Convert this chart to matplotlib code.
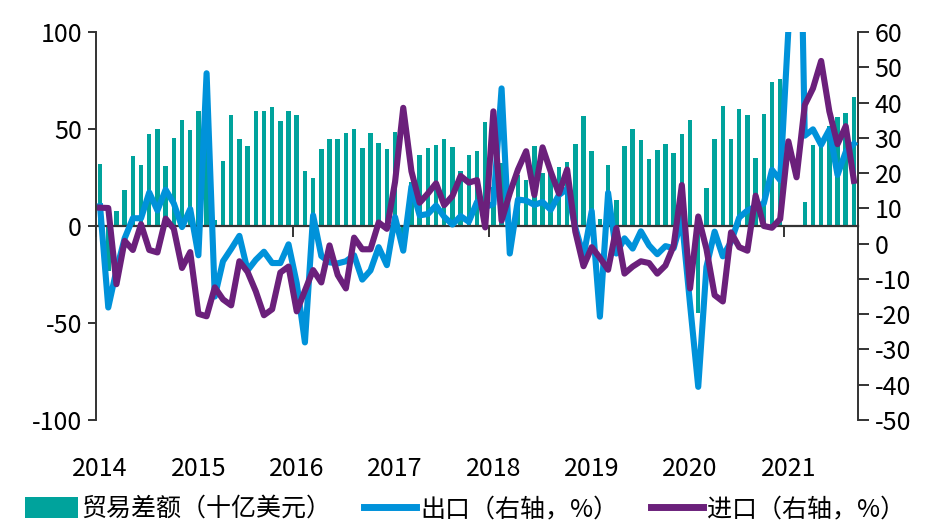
import numpy as np
import matplotlib
matplotlib.use('Agg')
import matplotlib.pyplot as plt
from matplotlib.patches import Patch
from matplotlib.lines import Line2D

plt.rcParams['font.family'] = ['Noto Sans CJK SC', 'DejaVu Sans']
plt.rcParams['axes.unicode_minus'] = False

TEAL = '#00A39C'
BLUE = '#0092DA'
PURPLE = '#6B207B'
DARK = '#333333'

years = ['2014', '2015', '2016', '2017', '2018', '2019', '2020', '2021']

# monthly, Jan 2014 - Sep 2021 (nan = not shown)
nan = np.nan
balance = [31.9, -23.0, 7.7, 18.5, 35.9, 31.6, 47.3, 49.8, 31.0, 45.4, 54.5, 49.6,
           59.4, 60.6, 3.0, 33.5, 57.0, 45.0, 41.4, 59.5, 59.5, 61.2, 54.0, 59.5,
           57.1, 28.2, 24.9, 39.7, 44.8, 45.1, 48.0, 50.0, 40.2, 47.9, 42.8, 39.6,
           48.6, -9.2, 22.5, 36.5, 40.0, 41.5, 45.0, 40.5, 28.5, 36.8, 38.6, 53.8,
           20.3, 32.5, -5.0, 26.2, 23.5, 41.0, 27.5, 27.9, 30.5, 33.0, 42.5, 56.8,
           38.6, 3.5, 31.5, 13.3, 41.0, 50.0, 44.2, 34.6, 39.0, 42.3, 37.5, 47.2,
           54.8, -45.0, 19.7, 44.9, 61.8, 44.8, 60.5, 57.2, 35.3, 57.5, 74.2, 75.9,
           nan, nan, 12.5, 41.5, 44.5, 51.5, 56.2, 58.0, 66.6]

exports = [10.6, -18.1, -7.5, 1.5, 7.2, 7.2, 14.5, 9.4, 15.3, 11.4, 4.7, 9.8,
           -3.3, 48.3, -15.0, -5.0, -1.5, 2.2, -7.6, -4.6, -2.3, -5.5, -5.5, -0.2,
           -11.2, -28.0, 8.0, -3.5, -5.3, -5.6, -5.0, -3.3, -10.2, -7.6, -1.0, -6.1,
           7.5, -2.0, 16.2, 8.0, 8.4, 10.8, 7.6, 5.4, 7.8, 6.2, 11.8, 10.4,
           11.2, 44.0, -2.8, 12.5, 12.2, 11.0, 11.8, 9.6, 13.8, 15.5, 4.6, -3.6,
           9.2, -20.7, 14.4, -2.8, 1.5, -1.4, 3.5, -0.5, -3.0, -0.7, -1.3, 7.0,
           -17.2, -40.6, -6.6, 3.4, -3.6, 0.5, 7.4, 9.4, 10.5, 11.4, 20.9, 18.0,
           60.6, 154.9, 30.6, 32.4, 28.0, 32.3, 19.5, 26.0, 28.3]

imports = [10.2, 10.1, -11.5, 0.8, -1.8, 5.5, -1.8, -2.5, 7.1, 4.2, -6.9, -2.4,
           -19.9, -20.6, -12.4, -15.8, -17.5, -5.0, -8.0, -13.5, -20.3, -18.6, -8.2, -6.5,
           -19.2, -13.3, -7.5, -11.0, -0.5, -8.9, -12.7, 1.7, -1.6, -1.6, 6.0, 4.2,
           17.5, 38.5, 20.5, 11.6, 14.2, 17.1, 10.9, 13.5, 19.2, 17.3, 18.0, 4.6,
           37.5, 6.5, 14.3, 21.0, 26.2, 13.8, 27.3, 20.4, 14.2, 21.0, 3.4, -6.4,
           -1.0, -4.0, -7.4, 4.4, -8.5, -6.5, -5.0, -5.5, -8.5, -6.2, -0.6, 16.6,
           -12.7, 7.7, -1.5, -14.6, -16.4, 3.2, -1.0, -2.0, 13.6, 5.0, 4.5, 7.0,
           29.0, 18.8, 39.3, 44.0, 51.8, 37.5, 28.2, 33.3, 17.8]

labels = ['贸易差额（十亿美元）', '出口（右轴，%）', '进口（右轴，%）']

x = np.arange(len(balance))
jan_idx = np.arange(0, len(balance), 12)

fig = plt.figure(figsize=(9.3, 5.22), dpi=100)
ax = fig.add_axes([0.1032, 0.1954, 0.8194, 0.7433])

ax.bar(x, balance, width=0.55, color=TEAL, zorder=2)
ax.set_xlim(-0.5, len(x) - 0.5)
ax.set_ylim(-100, 100)
ax.set_yticks([-100, -50, 0, 50, 100])

ax.spines['top'].set_visible(False)
ax.spines['right'].set_visible(False)
ax.spines['bottom'].set_position(('data', 0))
ax.spines['bottom'].set_color(DARK)
ax.spines['bottom'].set_linewidth(1.6)
ax.spines['left'].set_color(DARK)
ax.spines['left'].set_linewidth(1.4)

# year boundary ticks on the zero line, labels at the bottom
ax.set_xticks(jan_idx - 0.5)
ax.set_xticklabels([])
ax.tick_params(axis='x', direction='out', length=8, width=1.4, color=DARK)
ax.tick_params(axis='y', direction='out', length=6, width=1.4, color=DARK,
               labelsize=18, pad=4)

sec = ax.secondary_xaxis('bottom')
sec.set_xticks(jan_idx)
sec.set_xticklabels(years)
sec.tick_params(length=0, labelsize=18, pad=26)
sec.spines['bottom'].set_visible(False)

ax2 = ax.twinx()
ax2.plot(x, exports, color=BLUE, lw=4.4, solid_joinstyle='round', zorder=3)
ax2.plot(x, imports, color=PURPLE, lw=4.4, solid_joinstyle='round', zorder=4)
ax2.set_ylim(-50, 60)
ax2.set_yticks(np.arange(-50, 61, 10))
for s in ['top', 'bottom', 'left']:
    ax2.spines[s].set_visible(False)
ax2.spines['right'].set_color(DARK)
ax2.spines['right'].set_linewidth(1.4)
ax2.tick_params(axis='y', direction='out', length=8, width=1.4, color=DARK,
                labelsize=18, pad=4)

handles = [Patch(facecolor=TEAL, edgecolor='none'),
           Line2D([], [], color=BLUE, lw=5),
           Line2D([], [], color=PURPLE, lw=5)]
fig.legend(handles, labels, loc='lower left', bbox_to_anchor=(0.027, 0.0),
           ncol=3, frameon=False, fontsize=18, handlelength=2.1, handleheight=0.9,
           handletextpad=0.15, columnspacing=1.3, borderpad=0, borderaxespad=0)

fig.savefig('out.png', dpi=100)
